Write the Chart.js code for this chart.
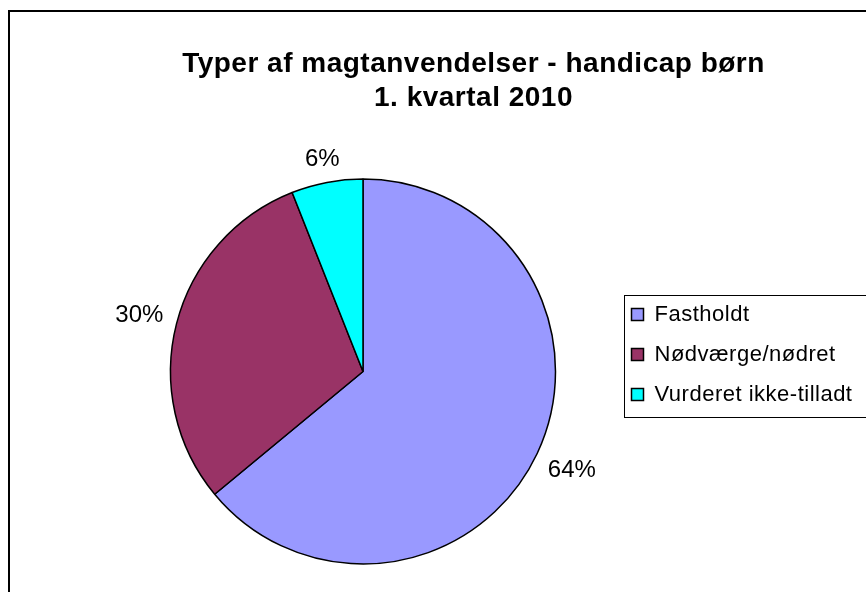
<!DOCTYPE html>
<html lang="da">
<head>
    <meta charset="UTF-8">
    <title>Typer af magtanvendelser - handicap børn</title>
    <style>
        * { margin: 0; padding: 0; box-sizing: border-box; }
        body { background: #ffffff; width: 866px; height: 592px; overflow: hidden; }
        #pieChart { display: block; }
    </style>
</head>
<body>
    <canvas id="pieChart" width="866" height="592"></canvas>

    <script src="https://cdn.jsdelivr.net/npm/chart.js"></script>
    <script>
        // data
        const categories = ['Fastholdt', 'Nødværge/nødret', 'Vurderet ikke-tilladt'];
        const shares = [64, 30, 6];
        const titleLines = ['Typer af magtanvendelser - handicap børn', '1. kvartal 2010'];

        const sliceColors = ['#9999ff', '#993366', '#00ffff'];
        const fontFamily = "'Liberation Sans', Arial, sans-serif";

        // frame around the whole chart + a bit of letter spacing like the original
        const framePlugin = {
            id: 'frame',
            beforeDraw(chart) {
                const ctx = chart.ctx;
                ctx.letterSpacing = '0.5px';
                ctx.save();
                ctx.strokeStyle = '#000';
                ctx.lineWidth = 2;
                ctx.strokeRect(9, 11, 1000, 1000);
                ctx.restore();
            }
        };

        // place the pie and the legend where the original has them
        const placePlugin = {
            id: 'place',
            afterLayout(chart) {
                const size = 386.5;
                const cx = 363, cy = 371.5;
                chart.chartArea = {
                    left: cx - size / 2, top: cy - size / 2,
                    right: cx + size / 2, bottom: cy + size / 2,
                    width: size, height: size
                };
                const lg = chart.legend;
                lg.left = 613.5;
                lg.top = 285.5;
                lg.right = 866;
                lg.bottom = 592;
                lg.width = lg.right - lg.left;
                lg.height = lg.bottom - lg.top;
            }
        };

        // legend border, drawn after the legend
        const legendBoxPlugin = {
            id: 'legendBox',
            afterDraw(chart) {
                const ctx = chart.ctx;
                ctx.save();
                ctx.strokeStyle = '#000';
                ctx.lineWidth = 1;
                ctx.strokeRect(624.5, 295.5, 400, 122);
                ctx.restore();
            }
        };

        // percentage labels outside each slice
        const outsideLabels = {
            id: 'outsideLabels',
            afterDatasetsDraw(chart) {
                const ctx = chart.ctx;
                const meta = chart.getDatasetMeta(0);
                ctx.save();
                ctx.letterSpacing = '0px';
                ctx.font = '24px ' + fontFamily;
                ctx.fillStyle = '#000';
                ctx.textAlign = 'center';
                ctx.textBaseline = 'middle';
                meta.data.forEach((arc, i) => {
                    const p = arc.getProps(['x', 'y', 'startAngle', 'endAngle', 'outerRadius'], true);
                    const mid = (p.startAngle + p.endAngle) / 2;
                    const ux = Math.cos(mid), uy = Math.sin(mid);
                    const text = shares[i] + '%';
                    const w = ctx.measureText(text).width;
                    const h = 17;
                    const ext = Math.abs(ux) * w / 2 + Math.abs(uy) * h / 2;
                    const d = p.outerRadius + 13 + ext;
                    ctx.fillText(text, p.x + ux * d, p.y + uy * d + 1);
                });
                ctx.restore();
            }
        };

        const ctxPie = document.getElementById('pieChart').getContext('2d');
        const pieChart = new Chart(ctxPie, {
            type: 'pie',
            data: {
                labels: categories,
                datasets: [{
                    data: shares,
                    backgroundColor: sliceColors,
                    borderColor: '#000',
                    borderWidth: 1.5
                }]
            },
            options: {
                responsive: false,
                animation: false,
                layout: {
                    padding: { left: 81, top: 40, right: 0, bottom: 0 }
                },
                plugins: {
                    title: {
                        display: true,
                        text: titleLines,
                        color: '#000',
                        font: { family: fontFamily, size: 28, weight: 'bold', lineHeight: 34 / 28 },
                        padding: { top: 7.5, bottom: 0 }
                    },
                    legend: {
                        position: 'right',
                        align: 'start',
                        labels: {
                            color: '#000',
                            font: { family: fontFamily, size: 22 },
                            boxWidth: 12,
                            boxHeight: 12,
                            padding: 18
                        }
                    },
                    tooltip: { enabled: false }
                }
            },
            plugins: [framePlugin, placePlugin, legendBoxPlugin, outsideLabels]
        });
    </script>
</body>
</html>
